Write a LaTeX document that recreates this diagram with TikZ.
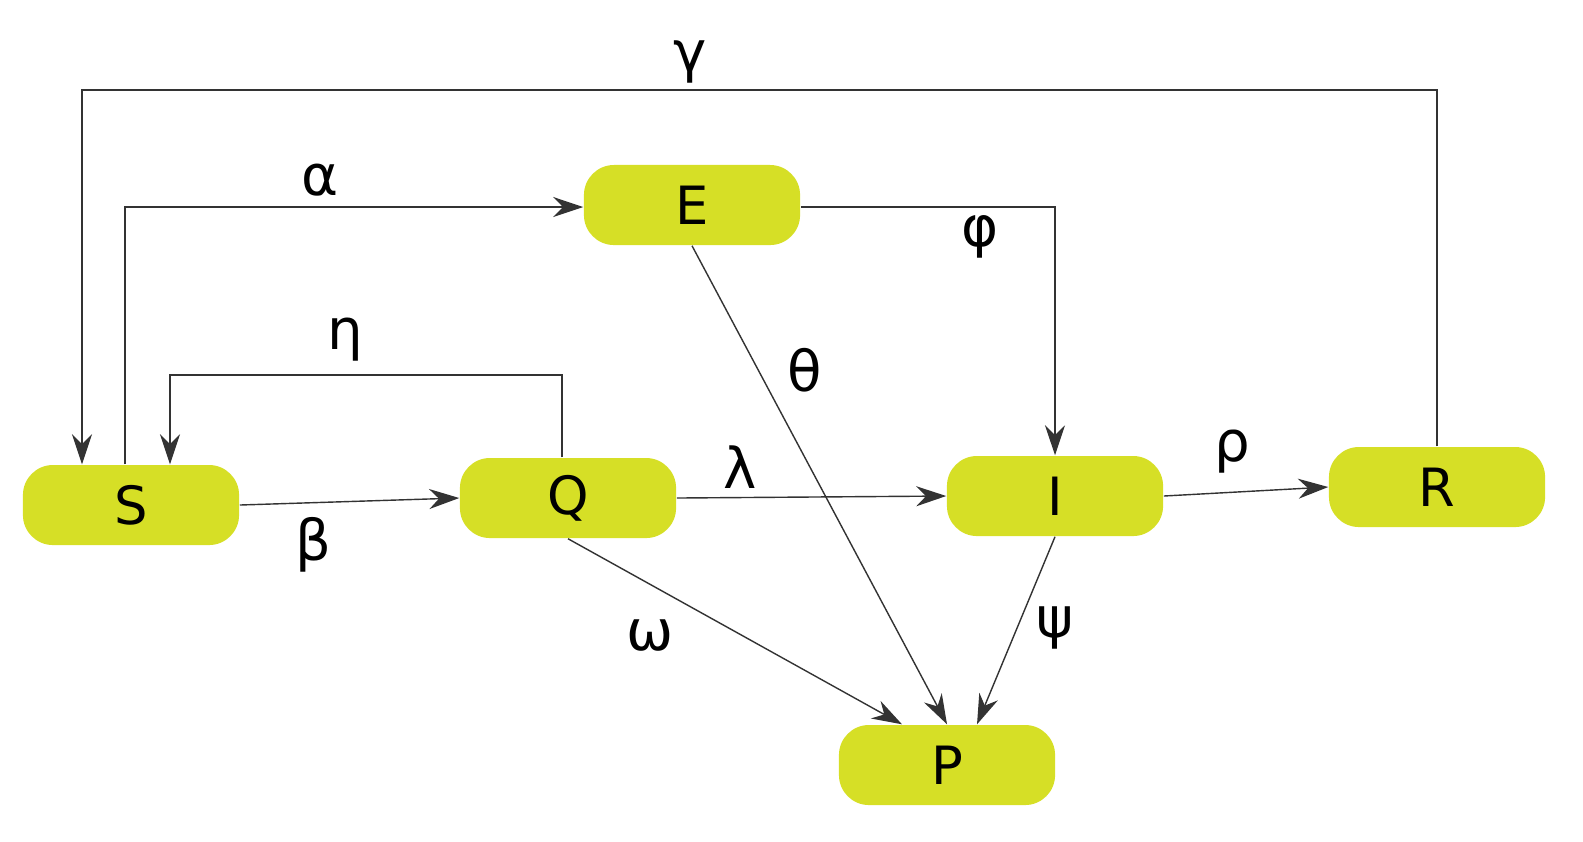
\documentclass[tikz,border=0pt]{standalone}
\usepackage{fontspec}
\setmainfont{DejaVu Sans}
\usepackage{xcolor}
\usetikzlibrary{arrows.meta}
\definecolor{boxgreen}{RGB}{214,223,38}
\begin{document}
\begin{tikzpicture}[x=0.01cm, y=-0.01cm,
        box/.style={rectangle, rounded corners=3mm, fill=boxgreen, minimum width=2.16cm,
        minimum height=0.8cm, font=\fontsize{15}{17}\selectfont},
        arr/.style={-{Stealth[length=3mm,width=2mm]}, thin, black!80},
        lab/.style={font=\fontsize{16}{18}\selectfont}]
        \useasboundingbox (0,0) rectangle (1583,841);
        \node[box] (S) at (131,505) {S};
        \node[box] (Q) at (568,498) {Q};
        \node[box] (E) at (692,205) {E};
        \node[box] (I) at (1055,496) {I};
        \node[box] (R) at (1437,487) {R};
        \node[box] (P) at (947,765) {P};

        \coordinate (g1) at (1437,90);
        \coordinate (g2) at (82,90);
        \coordinate (a1) at (125,207);
        \coordinate (h1) at (562,375);
        \coordinate (h2) at (170,375);
        \coordinate (f1) at (1055,207);

        \draw[arr] (R.north) -- (g1) -- (g2) -- (S.north -| g2);
        \draw[arr] (S.north -| a1) -- (a1) -- (E.west |- a1);
        \draw[arr] (Q.north -| h1) -- (h1) -- (h2) -- (S.north -| h2);
        \draw[arr] (E.east |- f1) -- (f1) -- (I.north);
        \draw[arr] (S.east) -- (Q.west);
        \draw[arr] (Q.east) -- (I.west);
        \draw[arr] (I.east) -- (R.west);
        \draw[arr] (E.south) -- (P.north);
        \draw[arr] (Q.south) -- ([xshift=-0.45cm]P.north);
        \draw[arr] (I.south) -- ([xshift=0.3cm]P.north);

        \node[lab] at (690,62) {γ};
        \node[lab] at (320,180) {α};
        \node[lab] at (345,340) {η};
        \node[lab] at (980,237) {φ};
        \node[lab] at (313,545) {β};
        \node[lab] at (740,467) {λ};
        \node[lab] at (1232,452) {ρ};
        \node[lab] at (805,370) {θ};
        \node[lab] at (650,635) {ω};
        \node[lab] at (1055,628) {ψ};
\end{tikzpicture}
\end{document}
